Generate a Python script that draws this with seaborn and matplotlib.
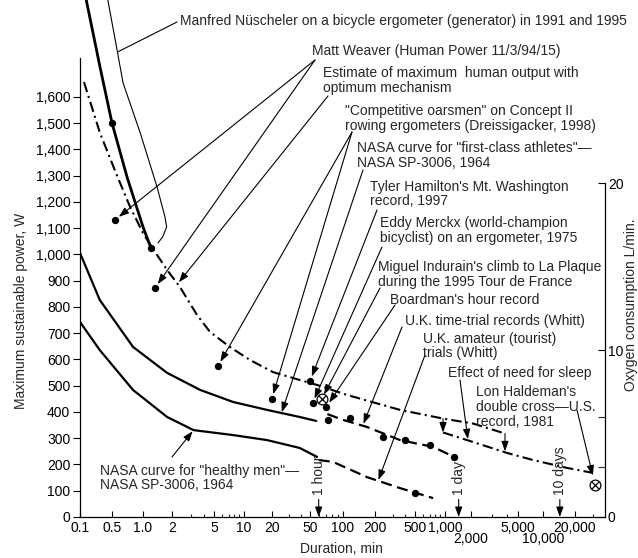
import numpy as np
import matplotlib
matplotlib.use("Agg")
import matplotlib.pyplot as plt
import seaborn as sns
from matplotlib.ticker import FixedLocator, FuncFormatter, NullFormatter
from matplotlib.transforms import blended_transform_factory

# =========================
# DATA (duration in min, power in W)
# =========================

# thick solid curve, top left
thick_min = [0.135, 0.273, 0.5, 0.70, 1.0, 1.21]
thick_w = [1975, 1715, 1501, 1295, 1105, 1025]

# thin bracket (Nuescheler)
bracket_min = [0.40, 0.56, 0.64, 0.94, 1.40, 1.69, 1.76, 1.60, 1.43]
bracket_w = [1975, 1779, 1654, 1463, 1257, 1143, 1105, 1067, 1044]

# estimate of maximum human output (dash-dot)
est_min = [0.122, 0.273, 0.56, 0.75, 1.0, 1.23, 1.78, 2.38, 3.45, 4.58, 7.2,
           11.6, 20.5, 39, 58, 109, 355, 955, 2080, 3880]
est_w = [1657, 1463, 1300, 1181, 1082, 1029, 941, 876, 770, 705, 648,
         598, 552, 522, 503, 465, 408, 375, 356, 318]

# after the effect of need for sleep (dash-dot)
sleep_min = [955, 1800, 4040, 7590, 16800, 30300]
sleep_w = [322, 293, 244, 217, 187, 168]
drop_min = [955, 3880]
drop_top = [375, 318]
drop_bot = [322, 250]

# NASA first-class athletes
athl_min = [0.1, 0.27, 0.80, 1.78, 3.7, 7.8, 17.7, 39, 57]
athl_w = [1006, 827, 648, 549, 484, 438, 408, 381, 366]

# NASA healthy men
healthy_min = [0.1, 0.27, 0.80, 1.78, 3.2, 7.8, 17.7, 39, 58]
healthy_w = [743, 636, 484, 381, 331, 312, 293, 263, 229]

# U.K. time-trial records (dashed)
uk_tt_min = [72, 100, 168, 355, 760, 1271]
uk_tt_w = [392, 370, 343, 293, 267, 229]

# U.K. amateur trials (dashed)
uk_am_min = [60, 81, 168, 355, 759]
uk_am_w = [217, 210, 152, 110, 72]

# record points
dot_min = [0.5, 1.21, 0.535, 1.33, 5.48, 19.9, 50, 52.7, 70.6,
           73, 116, 240, 398, 707, 1271, 500]
dot_w = [1501, 1025, 1132, 872, 575, 450, 518, 434, 420,
         370, 377, 305, 293, 274, 229, 91]
cross_min = [64, 31800]
cross_w = [450, 122]

# tick labels
x_tick_vals = [0.1, 0.5, 1, 2, 5, 10, 20, 50, 100, 200, 500, 1000, 2000, 5000, 10000, 20000]
x_tick_labels = ["0.1", "0.5", "1.0", "2", "5", "10", "20", "50", "100", "200", "500",
                 "1,000", "2,000", "5,000", "10,000", "20,000"]
x_low_row = [2000, 10000]
x_minor = [3, 4, 6, 7, 8, 9, 30, 40, 60, 70, 80, 90, 300, 400, 600, 700, 800, 900,
           3000, 4000, 30000]
y_tick_vals = list(range(0, 1700, 100))
o2_tick_vals = [0, 10, 20]
o2_minor = [3, 6]

time_marks = [60, 1440, 14400]
time_labels = ["1 hour", "1 day", "10 days"]

# =========================
# HAND-DRAWN DURATION SCALE
# =========================

AXIS_MIN = [0.01, 0.1, 0.5, 1, 2, 5, 10, 20, 50, 100, 200, 500, 1000, 2000, 5000,
            10000, 20000, 40000, 400000]
AXIS_PX = [34, 80, 112, 143, 172, 214, 244, 272, 310, 343, 375, 415, 445, 471, 518,
           543, 575, 605, 705]
LOG_MIN = np.log10(AXIS_MIN)


def fwd(v):
    v = np.clip(np.asarray(v, dtype=float), 1e-6, None)
    return np.interp(np.log10(v), LOG_MIN, AXIS_PX)


def inv(p):
    return 10 ** np.interp(np.asarray(p, dtype=float), AXIS_PX, LOG_MIN)


W, H = 638, 558


def px(x, y):
    return (x / W, 1 - y / H)


# =========================
# FIGURE
# =========================

sns.set_theme(style="ticks")
plt.rcParams["font.family"] = ["Liberation Sans", "DejaVu Sans"]
plt.rcParams["font.size"] = 10

fig = plt.figure(figsize=(W / 100, H / 100), dpi=100)
ax = fig.add_axes([80 / W, 41 / H, 525 / W, 517 / H])
ax.set_xscale("function", functions=(fwd, inv))

DASHDOT = (0, (5, 2, 1, 2))
DASHED = (0, (5, 2.5))


def curve(x, y, lw=1.6, ls="-"):
    sns.lineplot(x=x, y=y, ax=ax, color="black", lw=lw, linestyle=ls,
                 sort=False, estimator=None)


curve(thick_min, thick_w, lw=2.0)
curve(bracket_min, bracket_w, lw=0.8)
curve(est_min, est_w, lw=1.5, ls=DASHDOT)
curve(sleep_min, sleep_w, lw=1.5, ls=DASHDOT)
curve(athl_min, athl_w, lw=1.6)
curve(healthy_min, healthy_w, lw=1.6)
curve(uk_tt_min, uk_tt_w, lw=1.6, ls=DASHED)
curve(uk_am_min, uk_am_w, lw=1.6, ls=DASHED)

sns.scatterplot(x=dot_min, y=dot_w, ax=ax, color="black", s=28, linewidth=0, zorder=5)
sns.scatterplot(x=cross_min, y=cross_w, ax=ax, marker="o", s=60, color="white",
                edgecolor="black", linewidth=0.9, zorder=6)
sns.scatterplot(x=cross_min, y=cross_w, ax=ax, marker="x", s=26, color="black",
                linewidth=0.9, zorder=7)

ARROW = dict(arrowstyle="-|>,head_length=0.5,head_width=0.18", mutation_scale=12,
             color="black", lw=0.8, shrinkA=0)

# sleep drop arrows
for xm, top, bot in zip(drop_min, drop_top, drop_bot):
    ax.annotate("", xy=(xm, bot), xytext=(xm, top),
                arrowprops=dict(ARROW, shrinkB=0))

# =========================
# LABELS AND LEADERS
# =========================

notes = [
    ("Manfred Nüscheler on a bicycle ergometer (generator) in 1991 and 1995",
     (180, 20), (177, 22), [(0.57, 1772)], "line"),
    ("Matt Weaver (Human Power 11/3/94/15)",
     (312, 50), (315, 60), [(0.535, 1132), (1.33, 872)], "dot"),
    ("Estimate of maximum  human output with\noptimum mechanism",
     (323, 72), (328, 96), [(2.28, 890)], "curve"),
    ("\"Competitive oarsmen\" on Concept II\nrowing ergometers (Dreissigacker, 1998)",
     (345, 110), (352, 132), [(5.48, 575), (19.9, 450)], "dot"),
    ("NASA curve for \"first-class athletes\"\u2014\nNASA SP-3006, 1964",
     (357, 147), (363, 170), [(25, 394)], "curve"),
    ("Tyler Hamilton's Mt. Washington\nrecord, 1997",
     (370, 185), (377, 210), [(50, 518)], "dot"),
    ("Eddy Merckx (world-champion\nbicyclist) on an ergometer, 1975",
     (380, 222), (382, 247), [(52.7, 434)], "dot"),
    ("Miguel Indurain's climb to La Plaque\nduring the 1995 Tour de France",
     (378, 266), (380, 288), [(64, 450)], "dot"),
    ("Boardman's hour record",
     (390, 298), (395, 305), [(70.6, 420)], "dot"),
    ("U.K. time-trial records (Whitt)",
     (405, 320), (402, 327), [(154, 350)], "curve"),
    ("U.K. amateur (tourist)\ntrials (Whitt)",
     (423, 337), (425, 355), [(214, 136)], "curve"),
    ("Effect of need for sleep",
     (448, 372), (460, 380), [(1850, 291)], "curve"),
    ("Lon Haldeman's\ndouble cross\u2014U.S.\nrecord, 1981",
     (476, 391), (577, 410), [(31800, 122)], "cross"),
    ("NASA curve for \"healthy men\"\u2014\nNASA SP-3006, 1964",
     (100, 469), (172, 457), [(3.2, 331)], "curve"),
]

shrink = {"dot": 3.5, "curve": 1, "cross": 7, "line": 0}

for text, (tx, ty), tail, targets, kind in notes:
    # ty is the middle of the first line
    fig.text(*px(tx, ty - 5.5), text, ha="left", va="top", fontsize=10,
             linespacing=1.05)
    for target in targets:
        props = dict(ARROW, shrinkB=shrink[kind])
        if kind == "line":
            props = dict(arrowstyle="-", color="black", lw=0.8, shrinkA=0, shrinkB=0)
        ax.annotate("", xy=target, xycoords="data", xytext=px(*tail),
                    textcoords="figure fraction", arrowprops=props,
                    annotation_clip=False)

# time markers along the duration axis
blend = blended_transform_factory(ax.transData, ax.transAxes)
for xm, lab in zip(time_marks, time_labels):
    ax.annotate(lab, xy=(xm, 0), xycoords=blend, xytext=(xm, 0.043), textcoords=blend,
                rotation=90, ha="center", va="bottom", fontsize=10,
                arrowprops=dict(ARROW, shrinkA=1, shrinkB=0))

# =========================
# AXES
# =========================

ax.set_xlim(0.1, 40000)
ax.set_ylim(0, 1969.5)
ax.set_xlabel("")
ax.set_ylabel("")
ax.set_xticks(x_tick_vals)
ax.set_xticklabels(x_tick_labels)
ax.xaxis.set_minor_locator(FixedLocator(x_minor))
ax.xaxis.set_minor_formatter(NullFormatter())
ax.set_yticks(y_tick_vals)
ax.yaxis.set_major_formatter(FuncFormatter(lambda v, p: f"{v:,.0f}"))
ax.tick_params(axis="x", which="major", direction="in", length=4.5, width=0.8,
               pad=3, labelsize=10, colors="black")
ax.tick_params(axis="x", which="minor", direction="in", length=2.2, width=0.8)
ax.tick_params(axis="y", which="major", direction="out", length=5, width=0.8,
               pad=2, labelsize=10, colors="black")
for side in ["top", "right"]:
    ax.spines[side].set_visible(False)
ax.spines["left"].set_bounds(0, 1750)
for side in ["left", "bottom"]:
    ax.spines[side].set_linewidth(0.9)
    ax.spines[side].set_color("black")

ax2 = ax.twinx()
ax2.set_ylim(0, 1969.5 / 63.6)
ax2.set_yticks(o2_tick_vals)
ax2.yaxis.set_minor_locator(FixedLocator(o2_minor))
ax2.tick_params(axis="y", which="major", direction="in", length=5, width=0.8,
                pad=2, labelsize=10, colors="black")
ax2.tick_params(axis="y", which="minor", direction="in", length=5, width=0.8)
for side in ["top", "left", "bottom"]:
    ax2.spines[side].set_visible(False)
ax2.spines["right"].set_bounds(0, 20)
ax2.spines["right"].set_linewidth(0.9)
ax2.spines["right"].set_color("black")

# second label row with long ticks
for t, v in zip(ax.xaxis.get_major_ticks(), x_tick_vals):
    if v in x_low_row:
        t.tick1line.set_marker("|")
        t.tick1line.set_markersize(11)
        t.set_pad(11)

fig.text(*px(21.5, 311), "Maximum sustainable power, W", rotation=90,
         ha="center", va="center", fontsize=10)
fig.text(*px(631, 305), "Oxygen consumption L/min.", rotation=90,
         ha="center", va="center", fontsize=10)
fig.text(*px(341, 549), "Duration, min", ha="center", va="center", fontsize=10)

fig.savefig("out.png", dpi=100)
plt.close()
